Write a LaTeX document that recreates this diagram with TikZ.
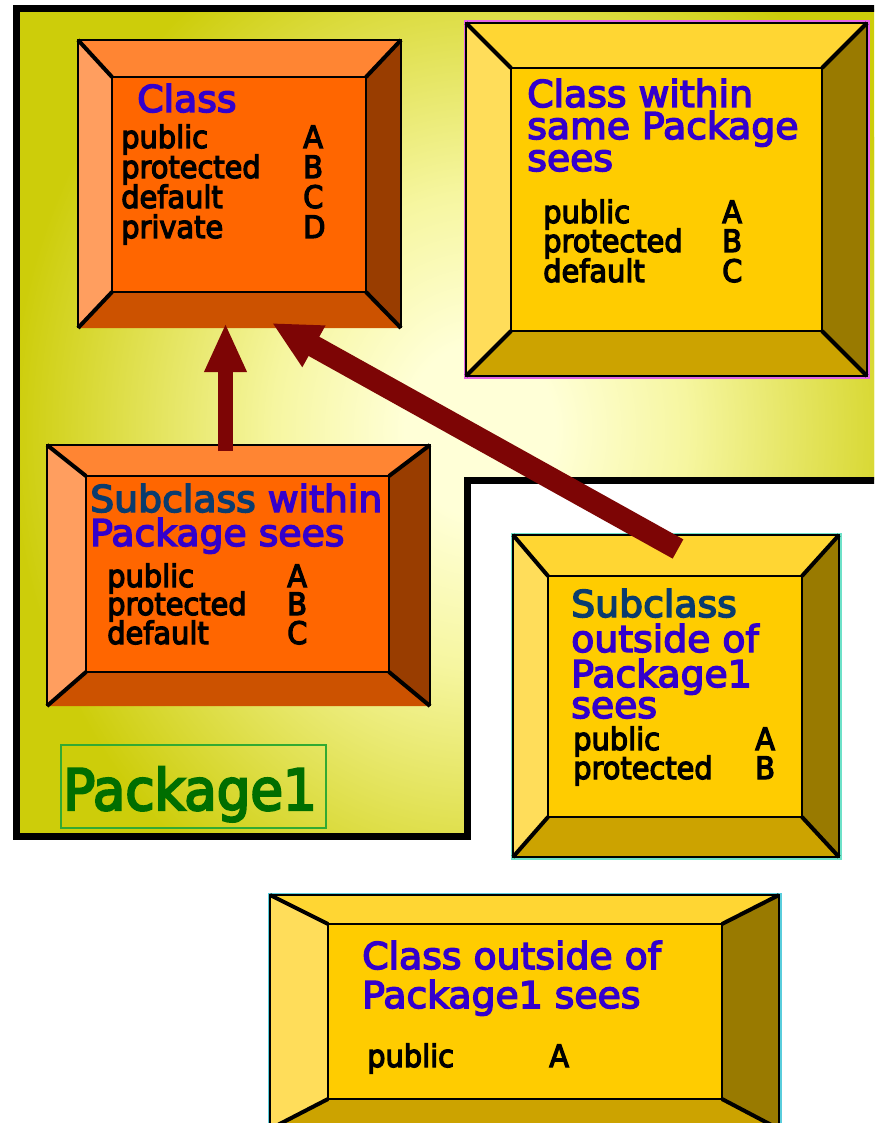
\documentclass[tikz,border=0pt]{standalone}
\usepackage{fontspec}
\setmainfont{DejaVu Sans}[FakeStretch=0.93, FakeBold=4]
\newfontfamily\titlefam{DejaVu Sans}[FakeStretch=1.02, FakeBold=4]
\usetikzlibrary{arrows.meta}
\definecolor{olv}{RGB}{205,205,10}
\definecolor{glowc}{RGB}{255,255,215}
\definecolor{glowm}{RGB}{246,246,160}
\definecolor{ortop}{RGB}{255,133,51}
\definecolor{orleft}{RGB}{255,158,95}
\definecolor{orright}{RGB}{153,61,0}
\definecolor{orbot}{RGB}{204,82,0}
\definecolor{ormid}{RGB}{255,102,0}
\definecolor{yetop}{RGB}{255,214,51}
\definecolor{yeleft}{RGB}{255,221,90}
\definecolor{yeright}{RGB}{153,122,0}
\definecolor{yebot}{RGB}{204,163,0}
\definecolor{yemid}{RGB}{255,204,0}
\definecolor{ttblue}{RGB}{51,0,204}
\definecolor{ttteal}{RGB}{10,60,110}
\definecolor{pkgreen}{RGB}{0,110,0}
\definecolor{arrred}{RGB}{125,5,5}
\definecolor{pinkb}{RGB}{230,100,230}
\definecolor{aquab}{RGB}{110,225,200}
\definecolor{cyanb}{RGB}{90,205,220}
\definecolor{lblgreen}{RGB}{50,170,50}
\pgfdeclareradialshading{pkgglow}{\pgfpoint{0bp}{0bp}}{color(0bp)=(glowc); color(4bp)=(glowc); color(11bp)=(glowm); color(25bp)=(olv); color(50bp)=(olv)}
\newcommand\mytitlefont{\titlefam\fontsize{27.75}{30}\selectfont}
\newcommand\mybodyfont{\fontsize{23.25}{25}\selectfont}
\newcommand\mypkgfont{\fontsize{42.75}{45}\selectfont}
\newcommand\bevbox[9]{%
\fill[#1top] (#2,#3) -- (#4,#3) -- (#8,#7) -- (#6,#7) -- cycle;
\fill[#1left] (#2,#3) -- (#6,#7) -- (#6,#9) -- (#2,#5) -- cycle;
\fill[#1right] (#4,#3) -- (#8,#7) -- (#8,#9) -- (#4,#5) -- cycle;
\fill[#1bot] (#2,#5) -- (#6,#9) -- (#8,#9) -- (#4,#5) -- cycle;
\fill[#1mid] (#6,#7) rectangle (#8,#9);
\draw[innerline] (#6,#7) rectangle (#8,#9);
\draw[bevline] (#2,#3) -- (#6,#7) (#4,#3) -- (#8,#7) (#2,#5) -- (#6,#9) (#4,#5) -- (#8,#9);
}
\tikzset{
  innerline/.style={black, line width=1.1pt},
  bevline/.style={black, line width=3pt},
  outerline/.style={black, line width=1.4pt},
  title/.style={anchor=base west, inner sep=0pt, font=\mytitlefont, text=ttblue},
  body/.style={anchor=base west, inner sep=0pt, font=\mybodyfont, text=black},
  bigarrow/.style={arrred, line width=#1},
}
\begin{document}
\begin{tikzpicture}[x=0.75pt, y=-0.75pt]
\useasboundingbox (0,0) rectangle (874,1123);
\clip (0,0) rectangle (874,1123);
\fill[white] (0,0) rectangle (874,1123);
% Package1 region
\begin{scope}
\clip (16,9) -- (900,9) -- (900,480) -- (467.5,480) -- (467.5,836) -- (16,836) -- cycle;
\fill[olv] (0,0) rectangle (900,900);
\shade[shading=pkgglow] (480,430) ellipse [x radius=470, y radius=540];
\end{scope}
\draw[black, line width=5.25pt] (16,9) -- (900,9) -- (900,480) -- (467.5,480) -- (467.5,836) -- (16,836) -- cycle;
% Class box
\bevbox{or}{78}{40}{401}{328}{112}{77}{366}{292}
\draw[outerline] (78,328) -- (78,40) -- (401,40) -- (401,328);
% Class within same package
\draw[pinkb, line width=1.5pt] (464.5,21.5) rectangle (868.5,377.5);
\bevbox{ye}{466}{23}{867}{376}{511}{68}{822}{331}
\draw[outerline] (466,23) rectangle (867,376);
% Subclass within package
\bevbox{or}{47}{445}{430}{706}{86}{476}{389}{672}
\draw[outerline] (47,706) -- (47,445) -- (430,445) -- (430,706);
% Subclass outside
\draw[aquab, line width=1.5pt] (511.5,533.5) rectangle (840.5,858.5);
\bevbox{ye}{513}{535}{839}{857}{548}{576}{802}{817}
\draw[outerline] (513,535) rectangle (839,857);
% Class outside
\draw[cyanb, line width=1.5pt] (268.5,893.5) rectangle (780.5,1131);
\bevbox{ye}{270}{895}{779}{1129}{328}{924}{722}{1099}
\draw[outerline] (270,895) rectangle (779,1129);
% Package label
\draw[lblgreen, line width=1pt] (61,745) rectangle (326,828);
\node[anchor=base west, inner sep=0pt, font=\mypkgfont, text=pkgreen] (pkg) at (63,810) {Package1};
% arrows
\coordinate (a1s) at (225.5,451);
\coordinate (a1e) at (225.5,323);
\draw[bigarrow=11.25pt, -{Triangle[width=29.25pt,length=36.75pt]}] (a1s) -- (a1e);
\coordinate (a2s) at (678,549);
\coordinate (a2e) at (272,323);
\draw[bigarrow=16.5pt, -{Triangle[width=33pt,length=36pt]}] (a2s) -- (a2e);
% texts box 1
\node[title] (t1) at (137,112) {Class};
\node[body] (b1a) at (121,148) {public};
\node[body] (b1b) at (121,178) {protected};
\node[body] (b1c) at (121,208) {default};
\node[body] (b1d) at (121,238) {private};
\node[body] (l1a) at (303,148) {A};
\node[body] (l1b) at (303,178) {B};
\node[body] (l1c) at (303,208) {C};
\node[body] (l1d) at (303,238) {D};
% box 2
\node[title] (t2a) at (527,107) {Class within};
\node[title] (t2b) at (527,139) {same Package};
\node[title] (t2c) at (527,171) {sees};
\node[body] (b2a) at (543,223) {public};
\node[body] (b2b) at (543,252) {protected};
\node[body] (b2c) at (543,282) {default};
\node[body] (l2a) at (722,223) {A};
\node[body] (l2b) at (722,252) {B};
\node[body] (l2c) at (722,282) {C};
% box 3
\node[title] (t3a) at (90,512) {\textcolor{ttteal}{Subclass} within};
\node[title] (t3b) at (90,546) {Package sees};
\node[body] (b3a) at (107,587) {public};
\node[body] (b3b) at (107,615) {protected};
\node[body] (b3c) at (107,644) {default};
\node[body] (l3a) at (287,587) {A};
\node[body] (l3b) at (287,615) {B};
\node[body] (l3c) at (287,644) {C};
% box 4
\node[title, text=ttteal] (t4a) at (571,617) {Subclass};
\node[title] (t4b) at (571,652) {outside of};
\node[title] (t4c) at (571,687) {Package1};
\node[title] (t4d) at (571,718) {sees};
\node[body] (b4a) at (573,750) {public};
\node[body] (b4b) at (573,779) {protected};
\node[body] (l4a) at (755,750) {A};
\node[body] (l4b) at (755,779) {B};
% box 5
\node[title] (t5a) at (362,969) {Class outside of};
\node[title] (t5b) at (362,1008) {Package1 sees};
\node[body] (b5a) at (367,1067) {public};
\node[body] (l5a) at (549,1067) {A};
\end{tikzpicture}
\end{document}
